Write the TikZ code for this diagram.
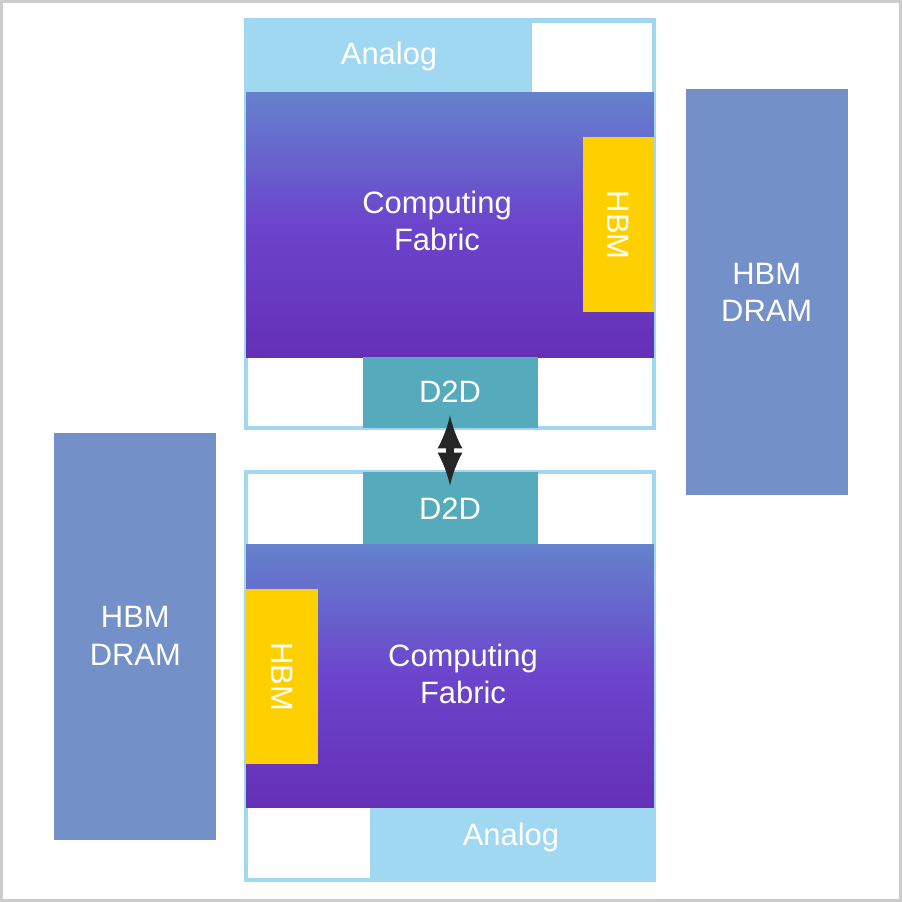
\documentclass[tikz,border=0pt]{standalone}
\usepackage{fontspec}
\setmainfont{Liberation Sans}
\definecolor{analogblue}{RGB}{160,216,242}
\definecolor{chipline}{RGB}{160,216,242}
\definecolor{dtwod}{RGB}{85,170,187}
\definecolor{hbmyellow}{RGB}{255,208,0}
\definecolor{dramblue}{RGB}{116,144,200}
\definecolor{fabtop}{RGB}{100,130,205}
\definecolor{fabmid}{RGB}{108,68,204}
\definecolor{fabbot}{RGB}{100,48,182}
\tikzset{
  lbl/.style={text=white, font=\fontsize{8.8}{10.6}\selectfont, align=center},
  chip/.style={draw=chipline, line width=1.2pt},
  analog/.style={fill=analogblue},
  fabric/.style={top color=fabtop, bottom color=fabbot, middle color=fabmid},
  dtwodbox/.style={fill=dtwod},
  hbmbox/.style={fill=hbmyellow},
  drambox/.style={fill=dramblue}
}
\begin{document}
\begin{tikzpicture}[x=0.01cm,y=-0.01cm]
\draw[gray!40, line width=0.8pt] (1,1) rectangle (901,901);
% top die
\draw[chip] (246,20) rectangle (654,428);
\fill[analog] (246,20) rectangle (532,92);
\shade[fabric] (246,92) rectangle (654,357);
\fill[hbmbox] (583,137) rectangle (654,312);
\fill[dtwodbox] (363,357) rectangle (538,428);
\path
(389,56) node [lbl] (analogA) {Analog}
(437,221) node [lbl] (fabricA) {Computing\\Fabric}
(618,225) node [lbl, rotate=-90] (hbmA) {HBM}
(450,392) node [lbl] (dtwodA) {D2D};
% bottom die
\draw[chip] (246,472) rectangle (654,880);
\fill[dtwodbox] (363,472) rectangle (538,545);
\shade[fabric] (246,545) rectangle (654,808);
\fill[hbmbox] (246,589) rectangle (318,764);
\fill[analog] (370,808) rectangle (654,880);
\path
(450,509) node [lbl] (dtwodB) {D2D}
(463,674) node [lbl] (fabricB) {Computing\\Fabric}
(282,677) node [lbl, rotate=-90] (hbmB) {HBM}
(511,838) node [lbl] (analogB) {Analog};
% memory stacks
\fill[drambox] (686,89) rectangle (848,495);
\fill[drambox] (54,433) rectangle (216,840);
\path
(767,292) node [lbl] (dramR) {HBM\\DRAM}
(135,636) node [lbl] (dramL) {HBM\\DRAM};
% die to die link
\draw[<->, >=latex, line width=2.2pt, black!85] (dtwodA.south) -- (dtwodB.north);
\end{tikzpicture}
\end{document}
